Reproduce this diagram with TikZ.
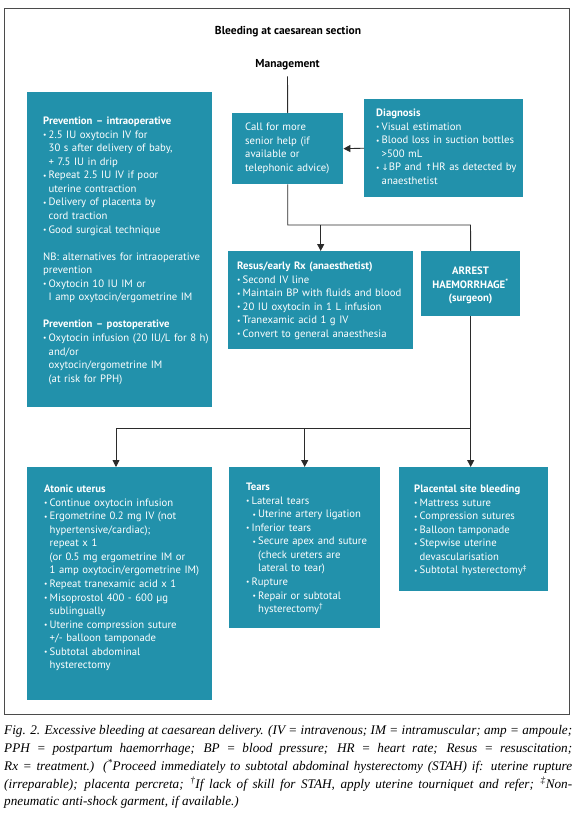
\documentclass[tikz,border=0pt]{standalone}
\usepackage{fontspec}
\usepackage{graphicx}
\setmainfont{PT Sans}
\newfontfamily\capfont{Liberation Serif}
\newfontfamily\symfont{DejaVu Sans}
\usetikzlibrary{arrows.meta,calc}
\definecolor{teal1}{HTML}{2291AB}
\definecolor{linec}{HTML}{2B2B2B}
\newcommand\bu{\makebox[5.5pt][l]{\raisebox{0.6pt}{\fontsize{7.5}{7.5}\selectfont •}}}
\newcommand\ci{\hspace*{5.5pt}}
\newcommand\si{\hspace*{6.5pt}}
\begin{document}
\begin{tikzpicture}[x=1pt,y=-1pt,
  box/.style={fill=teal1, draw=none, inner sep=0, anchor=north west},
  txt/.style={text=white, inner sep=0, align=left, text width=200pt, anchor=north west, font=\fontsize{10.7}{13.55}\selectfont},
  ttl/.style={font=\bfseries\fontsize{11.5}{13}\selectfont, text=black, inner sep=1pt},
  con/.style={draw=linec, line width=0.9pt},
  arr/.style={con, -{Triangle[length=7pt,width=7pt]}}]
\useasboundingbox (0,0) rectangle (580,823);
\fill[white] (0,0) rectangle (580,823);
\draw[draw=linec!85, line width=0.9pt] (4,8) rectangle (569,714);

% titles
\node[ttl] (title) at (288,32) {Bleeding at caesarean section};
\node[ttl] (mgmt) at (287.5,65) {Management};

% boxes
\node[box, minimum width=185pt, minimum height=315pt] (prev) at (27,92) {};
\node[box, minimum width=111pt, minimum height=71pt] (call) at (232,113) {};
\node[box, minimum width=159pt, minimum height=98pt] (diag) at (364,99) {};
\node[box, minimum width=185pt, minimum height=98pt] (resus) at (228,251) {};
\node[box, minimum width=99pt, minimum height=65pt] (arrest) at (421,251) {};
\node[box, minimum width=185pt, minimum height=233pt] (aton) at (27,467) {};
\node[box, minimum width=151pt, minimum height=161pt] (tears) at (229,467) {};
\node[box, minimum width=149pt, minimum height=124pt] (plac) at (399,467) {};

% texts
\node[txt] (prevT) at (43,115) {\strut\textbf{Prevention – intraoperative}\\
\bu 2.5 IU oxytocin IV for\\
\ci 30 s after delivery of baby,\\
\ci + 7.5 IU in drip\\
\bu Repeat 2.5 IU IV if poor\\
\ci uterine contraction\\
\bu Delivery of placenta by\\
\ci cord traction\\
\bu Good surgical technique\\[13.55pt]
NB: alternatives for intraoperative\\
prevention\\
\bu Oxytocin 10 IU IM or\\
\ci I amp oxytocin/ergometrine IM\\[13.55pt]
\textbf{Prevention – postoperative}\\
\bu Oxytocin infusion (20 IU/L for 8 h)\\
\ci and/or\\
\ci oxytocin/ergometrine IM\\
\ci (at risk for PPH)};

\node[txt] (callT) at (245,121) {\strut Call for more\\
senior help (if\\
available or\\
telephonic advice)};

\node[txt] (diagT) at (376,107) {\strut\textbf{Diagnosis}\\
\bu Visual estimation\\
\bu Blood loss in suction bottles\\
\ci >500 mL\\
\bu {\symfont\fontsize{8.5}{8.5}\selectfont ↓}BP and {\symfont\fontsize{8.5}{8.5}\selectfont ↑}HR as detected by\\
\ci anaesthetist};

\node[txt] (resusT) at (237,260) {\strut\textbf{Resus/early Rx (anaesthetist)}\\
\bu Second IV line\\
\bu Maintain BP with fluids and blood\\
\bu 20 IU oxytocin in 1 L infusion\\
\bu Tranexamic acid 1 g IV\\
\bu Convert to general anaesthesia};

\node[txt, align=center, text width=99pt, anchor=north] (arrestT) at (470.5,265) {\strut\textbf{ARREST}\\
\textbf{HAEMORRHAGE\textsuperscript{*}}\\
\textbf{(surgeon)}};

\node[txt] (atonT) at (44,483) {\strut\textbf{Atonic uterus}\\
\bu Continue oxytocin infusion\\
\bu Ergometrine 0.2 mg IV (not\\
\ci hypertensive/cardiac);\\
\ci repeat x 1\\
\ci (or 0.5 mg ergometrine IM or\\
\ci 1 amp oxytocin/ergometrine IM)\\
\bu Repeat tranexamic acid x 1\\
\bu Misoprostol 400 - 600 µg\\
\ci sublingually\\
\bu Uterine compression suture\\
\ci +/- balloon tamponade\\
\bu Subtotal abdominal\\
\ci hysterectomy};

\node[txt] (tearsT) at (246,481) {\strut\textbf{Tears}\\
\bu Lateral tears\\
\si\bu Uterine artery ligation\\
\bu Inferior tears\\
\si\bu Secure apex and suture\\
\si\ci (check ureters are\\
\si\ci lateral to tear)\\
\bu Rupture\\
\si\bu Repair or subtotal\\
\si\ci hysterectomy\textsuperscript{†}};

\node[txt] (placT) at (414,483) {\strut\textbf{Placental site bleeding}\\
\bu Mattress suture\\
\bu Compression sutures\\
\bu Balloon tamponade\\
\bu Stepwise uterine\\
\ci devascularisation\\
\bu Subtotal hysterectomy\textsuperscript{‡}};

% connectors
\coordinate (j1) at (470.5,225);
\coordinate (j3) at (116,428);
\draw[con] ([yshift=-5pt]mgmt.south) -- (call.north);
\draw[con] (call.south) |- (j1) -- (arrest.north);
\draw[arr] (resus.north |- j1) -- (resus.north);
\draw[arr] (diag.west) -- (call.east);
\draw[arr] (arrest.south) -- (arrest.south |- plac.north);
\draw[con] (arrest.south |- j3) -- (j3);
\draw[arr] (j3) -- (j3 |- aton.north);
\draw[arr] (tears.north |- j3) -- (tears.north);

% caption
\node[anchor=north west, inner sep=0, text width=568pt, align=justify,
  font=\capfont\itshape\fontsize{13.2}{17.8}\selectfont] (cap) at (4,722) {\strut Fig. 2. Excessive bleeding at caesarean delivery. (IV = intravenous; IM = intramuscular; amp = ampoule;\linebreak
PPH = postpartum haemorrhage; BP = blood pressure; HR = heart rate; Resus = resuscitation;\linebreak
Rx = treatment.) (\textsuperscript{*}Proceed immediately to subtotal abdominal hysterectomy (STAH) if: uterine rupture\linebreak
(irreparable); placenta percreta; \textsuperscript{†}If lack of skill for STAH, apply uterine tourniquet and refer; \textsuperscript{‡}Non-\linebreak
pneumatic anti-shock garment, if available.)};
\end{tikzpicture}
\end{document}
